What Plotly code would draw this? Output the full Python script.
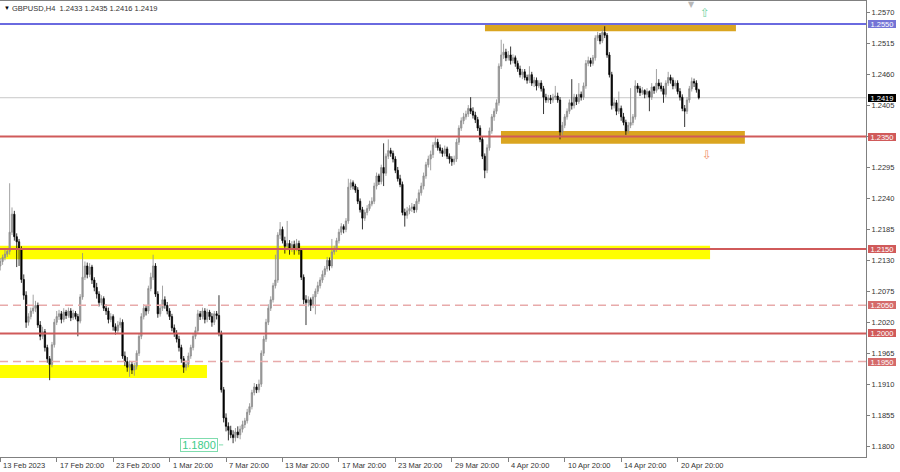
import plotly.graph_objects as go

# ---------------- data ----------------
symbol_title = "GBPUSD,H4"
last_ohlc = ["1.2433", "1.2435", "1.2416", "1.2419"]

opens = [
    1.2120, 1.2128, 1.2135, 1.2141, 1.2146, 1.2180, 1.2212, 1.2172, 1.2163, 1.2150,
    1.2096, 1.2068, 1.2020, 1.2030, 1.2040, 1.2045, 1.2050, 1.2015, 1.1995, 1.2003,
    1.1975, 1.1955, 1.1945, 1.1980, 1.2020, 1.2030, 1.2035, 1.2025, 1.2038, 1.2032,
    1.2040, 1.2028, 1.2036, 1.2030, 1.2022, 1.2065, 1.2100, 1.2120, 1.2105, 1.2118,
    1.2095, 1.2082, 1.2070, 1.2055, 1.2062, 1.2045, 1.2040, 1.2025, 1.2030, 1.2012,
    1.2005, 1.2015, 1.2020, 1.1960, 1.1950, 1.1940, 1.1945, 1.1935, 1.1942, 1.1965,
    1.1995, 1.2030, 1.2045, 1.2040, 1.2080, 1.2100, 1.2120, 1.2070, 1.2035, 1.2045,
    1.2060, 1.2050, 1.2040, 1.2030, 1.2010, 1.2000, 1.1990, 1.1975, 1.1955, 1.1940,
    1.1945, 1.1960, 1.1975, 1.1995, 1.2005, 1.2035, 1.2030, 1.2040, 1.2025, 1.2038,
    1.2030, 1.2020, 1.2035, 1.2032, 1.2000, 1.1900, 1.1850, 1.1835, 1.1828, 1.1820,
    1.1815, 1.1825, 1.1820, 1.1830, 1.1838, 1.1845, 1.1860, 1.1870, 1.1895, 1.1905,
    1.1900, 1.1910, 1.1965, 1.1990, 1.2020, 1.2045, 1.2060, 1.2085, 1.2095, 1.2175,
    1.2185, 1.2165, 1.2155, 1.2160, 1.2150, 1.2158, 1.2152, 1.2160, 1.2148, 1.2100,
    1.2060, 1.2055, 1.2060, 1.2050, 1.2065, 1.2075, 1.2085, 1.2095, 1.2105, 1.2115,
    1.2130, 1.2120, 1.2145, 1.2150, 1.2165, 1.2180, 1.2190, 1.2185, 1.2200, 1.2260,
    1.2268, 1.2262, 1.2255, 1.2235, 1.2220, 1.2205, 1.2215, 1.2222, 1.2230, 1.2235,
    1.2262, 1.2280, 1.2270, 1.2295, 1.2285, 1.2315, 1.2325, 1.2320, 1.2310, 1.2290,
    1.2275, 1.2265, 1.2215, 1.2210, 1.2218, 1.2222, 1.2225, 1.2220, 1.2235, 1.2250,
    1.2262, 1.2280, 1.2300, 1.2310, 1.2318, 1.2335, 1.2340, 1.2330, 1.2325, 1.2320,
    1.2328, 1.2315, 1.2310, 1.2305, 1.2310, 1.2340, 1.2365, 1.2378, 1.2385, 1.2390,
    1.2400, 1.2395, 1.2388, 1.2380, 1.2365, 1.2345, 1.2315, 1.2290, 1.2330, 1.2360,
    1.2385, 1.2395, 1.2410, 1.2475, 1.2495, 1.2500, 1.2490, 1.2495, 1.2485, 1.2490,
    1.2480, 1.2470, 1.2460, 1.2465, 1.2455, 1.2450, 1.2460, 1.2445, 1.2450, 1.2440,
    1.2445, 1.2435, 1.2420, 1.2415, 1.2418, 1.2415, 1.2420, 1.2422, 1.2415, 1.2358,
    1.2370, 1.2385, 1.2395, 1.2410, 1.2405, 1.2420, 1.2412, 1.2425, 1.2420, 1.2440,
    1.2480, 1.2485, 1.2480, 1.2490, 1.2525, 1.2530, 1.2520, 1.2535, 1.2530, 1.2495,
    1.2460, 1.2405, 1.2410, 1.2395, 1.2400, 1.2385, 1.2375, 1.2360, 1.2370, 1.2375,
    1.2385, 1.2440, 1.2435, 1.2428, 1.2432, 1.2425, 1.2430, 1.2420, 1.2438, 1.2432,
    1.2445, 1.2440, 1.2435, 1.2425, 1.2445, 1.2455, 1.2450, 1.2440, 1.2445, 1.2430,
    1.2420, 1.2400, 1.2395, 1.2415, 1.2435, 1.2448, 1.2445, 1.2433,
]

highs = [
    1.2134, 1.2140, 1.2150, 1.2152, 1.2267, 1.2224, 1.2218, 1.2178, 1.2168, 1.2155,
    1.2105, 1.2075, 1.2036, 1.2046, 1.2069, 1.2058, 1.2055, 1.2022, 1.2012, 1.2008,
    1.1980, 1.1960, 1.1985, 1.2026, 1.2040, 1.2042, 1.2040, 1.2045, 1.2042, 1.2046,
    1.2045, 1.2042, 1.2040, 1.2035, 1.2070, 1.2143, 1.2128, 1.2126, 1.2125, 1.2122,
    1.2100, 1.2090, 1.2075, 1.2068, 1.2066, 1.2052, 1.2046, 1.2036, 1.2034, 1.2018,
    1.2022, 1.2028, 1.2025, 1.1968, 1.1958, 1.1952, 1.1950, 1.1948, 1.1970, 1.2000,
    1.2036, 1.2052, 1.2050, 1.2085, 1.2108, 1.2140, 1.2125, 1.2075, 1.2052, 1.2085,
    1.2066, 1.2056, 1.2045, 1.2035, 1.2016, 1.2006, 1.1996, 1.1980, 1.1960, 1.1952,
    1.1966, 1.1980, 1.2000, 1.2012, 1.2042, 1.2040, 1.2046, 1.2045, 1.2044, 1.2042,
    1.2036, 1.2040, 1.2040, 1.2068, 1.2005, 1.1905, 1.1858, 1.1842, 1.1836, 1.1828,
    1.1832, 1.1835, 1.1836, 1.1845, 1.1850, 1.1866, 1.1876, 1.1900, 1.1912, 1.1910,
    1.1918, 1.1970, 1.1996, 1.2026, 1.2052, 1.2066, 1.2090, 1.2140, 1.2180, 1.2198,
    1.2190, 1.2172, 1.2200, 1.2166, 1.2164, 1.2165, 1.2168, 1.2165, 1.2152, 1.2105,
    1.2068, 1.2066, 1.2064, 1.2070, 1.2080, 1.2092, 1.2100, 1.2112, 1.2120, 1.2136,
    1.2135, 1.2168, 1.2156, 1.2170, 1.2186, 1.2196, 1.2194, 1.2205, 1.2275, 1.2274,
    1.2272, 1.2266, 1.2260, 1.2240, 1.2225, 1.2220, 1.2228, 1.2236, 1.2242, 1.2268,
    1.2286, 1.2284, 1.2300, 1.2338, 1.2320, 1.2345, 1.2330, 1.2325, 1.2315, 1.2296,
    1.2282, 1.2270, 1.2222, 1.2225, 1.2228, 1.2232, 1.2230, 1.2240, 1.2256, 1.2268,
    1.2286, 1.2305, 1.2316, 1.2325, 1.2340, 1.2350, 1.2346, 1.2336, 1.2330, 1.2334,
    1.2332, 1.2320, 1.2315, 1.2316, 1.2346, 1.2370, 1.2384, 1.2392, 1.2396, 1.2406,
    1.2420, 1.2402, 1.2394, 1.2385, 1.2370, 1.2350, 1.2320, 1.2336, 1.2366, 1.2390,
    1.2400, 1.2416, 1.2480, 1.2522, 1.2515, 1.2506, 1.2502, 1.2510, 1.2496, 1.2494,
    1.2485, 1.2476, 1.2470, 1.2470, 1.2460, 1.2475, 1.2465, 1.2456, 1.2455, 1.2450,
    1.2450, 1.2440, 1.2426, 1.2424, 1.2424, 1.2426, 1.2440, 1.2428, 1.2420, 1.2376,
    1.2390, 1.2400, 1.2416, 1.2452, 1.2426, 1.2425, 1.2445, 1.2430, 1.2446, 1.2486,
    1.2492, 1.2490, 1.2495, 1.2530, 1.2536, 1.2534, 1.2540, 1.2546, 1.2534, 1.2500,
    1.2465, 1.2418, 1.2415, 1.2430, 1.2405, 1.2392, 1.2380, 1.2376, 1.2436, 1.2390,
    1.2450, 1.2445, 1.2440, 1.2438, 1.2434, 1.2436, 1.2432, 1.2445, 1.2440, 1.2470,
    1.2452, 1.2446, 1.2440, 1.2450, 1.2465, 1.2460, 1.2455, 1.2450, 1.2450, 1.2436,
    1.2425, 1.2406, 1.2420, 1.2440, 1.2455, 1.2453, 1.2450, 1.2435,
]

lows = [
    1.2112, 1.2122, 1.2130, 1.2136, 1.2140, 1.2175, 1.2165, 1.2118, 1.2120, 1.2090,
    1.2060, 1.2010, 1.2014, 1.2025, 1.2035, 1.2038, 1.2010, 1.1988, 1.1990, 1.1968,
    1.1948, 1.1917, 1.1940, 1.1975, 1.2015, 1.2024, 1.2018, 1.2020, 1.2026, 1.2028,
    1.2022, 1.2024, 1.2025, 1.1995, 1.2018, 1.2060, 1.2095, 1.2098, 1.2100, 1.2088,
    1.2075, 1.2062, 1.2048, 1.2050, 1.2040, 1.2033, 1.2018, 1.2020, 1.2005, 1.1998,
    1.2000, 1.2010, 1.1955, 1.1942, 1.1932, 1.1923, 1.1928, 1.1925, 1.1936, 1.1960,
    1.1990, 1.2025, 1.2032, 1.2035, 1.2075, 1.2095, 1.2065, 1.2028, 1.2030, 1.2040,
    1.2044, 1.2034, 1.2024, 1.2004, 1.1994, 1.1984, 1.1968, 1.1948, 1.1930, 1.1934,
    1.1940, 1.1955, 1.1970, 1.1990, 1.2000, 1.2024, 1.2025, 1.2018, 1.2020, 1.2024,
    1.2012, 1.2015, 1.2025, 1.1995, 1.1895, 1.1842, 1.1826, 1.1810, 1.1814, 1.1805,
    1.1808, 1.1814, 1.1812, 1.1824, 1.1832, 1.1840, 1.1855, 1.1865, 1.1890, 1.1894,
    1.1895, 1.1905, 1.1960, 1.1985, 1.2015, 1.2040, 1.2055, 1.2080, 1.2090, 1.2168,
    1.2160, 1.2142, 1.2148, 1.2140, 1.2145, 1.2140, 1.2146, 1.2140, 1.2095, 1.2052,
    1.2015, 1.2048, 1.2040, 1.2045, 1.2034, 1.2070, 1.2080, 1.2090, 1.2100, 1.2110,
    1.2112, 1.2116, 1.2140, 1.2145, 1.2160, 1.2175, 1.2178, 1.2180, 1.2195, 1.2255,
    1.2256, 1.2250, 1.2230, 1.2215, 1.2185, 1.2200, 1.2210, 1.2218, 1.2226, 1.2230,
    1.2256, 1.2264, 1.2265, 1.2262, 1.2280, 1.2310, 1.2314, 1.2304, 1.2285, 1.2270,
    1.2260, 1.2210, 1.2190, 1.2204, 1.2212, 1.2216, 1.2214, 1.2215, 1.2230, 1.2245,
    1.2256, 1.2275, 1.2295, 1.2290, 1.2312, 1.2330, 1.2325, 1.2320, 1.2314, 1.2315,
    1.2310, 1.2302, 1.2298, 1.2300, 1.2305, 1.2335, 1.2360, 1.2372, 1.2380, 1.2385,
    1.2390, 1.2382, 1.2374, 1.2360, 1.2340, 1.2310, 1.2276, 1.2285, 1.2325, 1.2355,
    1.2378, 1.2390, 1.2405, 1.2470, 1.2488, 1.2484, 1.2485, 1.2478, 1.2480, 1.2474,
    1.2465, 1.2455, 1.2452, 1.2450, 1.2444, 1.2445, 1.2440, 1.2438, 1.2432, 1.2436,
    1.2430, 1.2390, 1.2410, 1.2410, 1.2408, 1.2410, 1.2415, 1.2410, 1.2345, 1.2352,
    1.2365, 1.2380, 1.2390, 1.2398, 1.2400, 1.2406, 1.2408, 1.2414, 1.2415, 1.2435,
    1.2475, 1.2474, 1.2476, 1.2485, 1.2520, 1.2514, 1.2516, 1.2525, 1.2490, 1.2455,
    1.2398, 1.2400, 1.2388, 1.2390, 1.2378, 1.2370, 1.2353, 1.2355, 1.2365, 1.2370,
    1.2380, 1.2428, 1.2422, 1.2424, 1.2418, 1.2420, 1.2395, 1.2415, 1.2426, 1.2428,
    1.2434, 1.2430, 1.2410, 1.2420, 1.2440, 1.2444, 1.2434, 1.2435, 1.2425, 1.2414,
    1.2395, 1.2367, 1.2390, 1.2410, 1.2430, 1.2438, 1.2428, 1.2416,
]

closes = [
    1.2128, 1.2135, 1.2141, 1.2146, 1.2180, 1.2212, 1.2172, 1.2163, 1.2150, 1.2096,
    1.2068, 1.2020, 1.2030, 1.2040, 1.2045, 1.2050, 1.2015, 1.1995, 1.2003, 1.1975,
    1.1955, 1.1945, 1.1980, 1.2020, 1.2030, 1.2035, 1.2025, 1.2038, 1.2032, 1.2040,
    1.2028, 1.2036, 1.2030, 1.2022, 1.2065, 1.2100, 1.2120, 1.2105, 1.2118, 1.2095,
    1.2082, 1.2070, 1.2055, 1.2062, 1.2045, 1.2040, 1.2025, 1.2030, 1.2012, 1.2005,
    1.2015, 1.2020, 1.1960, 1.1950, 1.1940, 1.1945, 1.1935, 1.1942, 1.1965, 1.1995,
    1.2030, 1.2045, 1.2040, 1.2080, 1.2100, 1.2120, 1.2070, 1.2035, 1.2045, 1.2060,
    1.2050, 1.2040, 1.2030, 1.2010, 1.2000, 1.1990, 1.1975, 1.1955, 1.1940, 1.1945,
    1.1960, 1.1975, 1.1995, 1.2005, 1.2035, 1.2030, 1.2040, 1.2025, 1.2038, 1.2030,
    1.2020, 1.2035, 1.2032, 1.2000, 1.1900, 1.1850, 1.1835, 1.1828, 1.1820, 1.1815,
    1.1825, 1.1820, 1.1830, 1.1838, 1.1845, 1.1860, 1.1870, 1.1895, 1.1905, 1.1900,
    1.1910, 1.1965, 1.1990, 1.2020, 1.2045, 1.2060, 1.2085, 1.2095, 1.2175, 1.2185,
    1.2165, 1.2155, 1.2160, 1.2150, 1.2158, 1.2152, 1.2160, 1.2148, 1.2100, 1.2060,
    1.2055, 1.2060, 1.2050, 1.2065, 1.2075, 1.2085, 1.2095, 1.2105, 1.2115, 1.2130,
    1.2120, 1.2145, 1.2150, 1.2165, 1.2180, 1.2190, 1.2185, 1.2200, 1.2260, 1.2268,
    1.2262, 1.2255, 1.2235, 1.2220, 1.2205, 1.2215, 1.2222, 1.2230, 1.2235, 1.2262,
    1.2280, 1.2270, 1.2295, 1.2285, 1.2315, 1.2325, 1.2320, 1.2310, 1.2290, 1.2275,
    1.2265, 1.2215, 1.2210, 1.2218, 1.2222, 1.2225, 1.2220, 1.2235, 1.2250, 1.2262,
    1.2280, 1.2300, 1.2310, 1.2318, 1.2335, 1.2340, 1.2330, 1.2325, 1.2320, 1.2328,
    1.2315, 1.2310, 1.2305, 1.2310, 1.2340, 1.2365, 1.2378, 1.2385, 1.2390, 1.2400,
    1.2395, 1.2388, 1.2380, 1.2365, 1.2345, 1.2315, 1.2290, 1.2330, 1.2360, 1.2385,
    1.2395, 1.2410, 1.2475, 1.2495, 1.2500, 1.2490, 1.2495, 1.2485, 1.2490, 1.2480,
    1.2470, 1.2460, 1.2465, 1.2455, 1.2450, 1.2460, 1.2445, 1.2450, 1.2440, 1.2445,
    1.2435, 1.2420, 1.2415, 1.2418, 1.2415, 1.2420, 1.2422, 1.2415, 1.2358, 1.2370,
    1.2385, 1.2395, 1.2410, 1.2405, 1.2420, 1.2412, 1.2425, 1.2420, 1.2440, 1.2480,
    1.2485, 1.2480, 1.2490, 1.2525, 1.2530, 1.2520, 1.2535, 1.2530, 1.2495, 1.2460,
    1.2405, 1.2410, 1.2395, 1.2400, 1.2385, 1.2375, 1.2360, 1.2370, 1.2375, 1.2385,
    1.2440, 1.2435, 1.2428, 1.2432, 1.2425, 1.2430, 1.2420, 1.2438, 1.2432, 1.2445,
    1.2440, 1.2435, 1.2425, 1.2445, 1.2455, 1.2450, 1.2440, 1.2445, 1.2430, 1.2420,
    1.2400, 1.2395, 1.2415, 1.2435, 1.2448, 1.2445, 1.2433, 1.2419,
]

time_label_bars = [0, 24, 48, 72, 96, 120, 144, 168, 192, 216, 240, 264, 288]
time_labels = ["13 Feb 2023", "17 Feb 20:00", "23 Feb 20:00", "1 Mar 20:00",
               "7 Mar 20:00", "13 Mar 20:00", "17 Mar 20:00", "23 Mar 20:00",
               "29 Mar 20:00", "4 Apr 20:00", "10 Apr 20:00", "14 Apr 20:00",
               "20 Apr 20:00"]

price_ticks = [1.1800, 1.1855, 1.1910, 1.1965, 1.2020, 1.2075, 1.2130, 1.2185,
               1.2240, 1.2295, 1.2350, 1.2405, 1.2460, 1.2515, 1.2570]

resistance_level = 1.2550
solid_levels = [1.2350, 1.2150, 1.2000]
dashed_levels = [1.2050, 1.1950]
current_price = 1.2419
low_marker_value = "1.1800"

# zones: start bar, end bar, low price, high price
zone_start = [206.1, 212.9, -5.0, -5.0]
zone_end = [312.8, 316.6, 301.8, 87.9]
zone_low = [1.2537, 1.2337, 1.2132, 1.1921]
zone_high = [1.2552, 1.2360, 1.2156, 1.1944]
zone_colors = ["#DAA520", "#DAA520", "#FFFF00", "#FFFF00"]

# ---------------- figure ----------------
FONT = "Liberation Sans, Arial, sans-serif"
n = len(closes)
bars = list(range(n))

fig = go.Figure()
fig.add_trace(go.Candlestick(
    x=bars, open=opens, high=highs, low=lows, close=closes,
    increasing=dict(line=dict(color="#8c8c8c", width=0.8), fillcolor="#a0a0a0"),
    decreasing=dict(line=dict(color="#000000", width=0.8), fillcolor="#000000"),
    whiskerwidth=0, hoverinfo="skip", showlegend=False,
))

shapes = []
for x0, x1, y0, y1, c in zip(zone_start, zone_end, zone_low, zone_high, zone_colors):
    shapes.append(dict(type="rect", xref="x", yref="y", x0=x0, x1=x1, y0=y0, y1=y1,
                       fillcolor=c, line=dict(width=0), layer="below"))
# current price line
shapes.append(dict(type="line", xref="paper", yref="y", x0=0, x1=1,
                   y0=current_price, y1=current_price,
                   line=dict(color="#c8c8c8", width=1), layer="below"))
# resistance (blue)
shapes.append(dict(type="line", xref="paper", yref="y", x0=0, x1=1,
                   y0=resistance_level, y1=resistance_level,
                   line=dict(color="#6a6ae0", width=2)))
for lv in solid_levels:
    shapes.append(dict(type="line", xref="paper", yref="y", x0=0, x1=1, y0=lv, y1=lv,
                       line=dict(color="#d05a5a", width=2)))
for lv in dashed_levels:
    shapes.append(dict(type="line", xref="paper", yref="y", x0=0, x1=1, y0=lv, y1=lv,
                       line=dict(color="#e8aaaa", width=1.5, dash="8px,5px")))
# small dash next to the 1.1800 text label
shapes.append(dict(type="line", xref="x", yref="y", x0=93.0, x1=94.8,
                   y0=float(low_marker_value) + 0.0002, y1=float(low_marker_value) + 0.0002,
                   line=dict(color="#7fdcae", width=1)))

annotations = []
# title
annotations.append(dict(xref="paper", yref="paper", x=0, y=1, xanchor="left", yanchor="top",
                        xshift=2, yshift=-2, showarrow=False, text="▼",
                        font=dict(family=FONT, size=6, color="#000000")))
annotations.append(dict(xref="paper", yref="paper", x=0, y=1, xanchor="left", yanchor="top",
                        xshift=10, yshift=-1, showarrow=False,
                        text=symbol_title + "\u00a0\u00a0" + " ".join(last_ohlc),
                        font=dict(family=FONT, size=7.5, color="#333333")))
# time labels
for b, t in zip(time_label_bars, time_labels):
    annotations.append(dict(xref="x", yref="paper", x=b, y=0, xanchor="left", yanchor="top",
                            xshift=1, yshift=-2, showarrow=False, text=t,
                            font=dict(family=FONT, size=7.5, color="#333333")))

# price level boxes on the right axis
def level_box(value, bg):
    return dict(xref="paper", yref="y", x=1, y=value, xanchor="left", yanchor="middle",
                xshift=2, showarrow=False, text=f"{value:.4f}", bgcolor=bg,
                width=28, height=8, borderpad=0, borderwidth=0,
                font=dict(family=FONT, size=7.5, color="#ffffff"))

annotations.append(level_box(resistance_level, "#7474d6"))
annotations.append(level_box(current_price, "#000000"))
for lv in solid_levels:
    annotations.append(level_box(lv, "#d05a5a"))
for lv in dashed_levels:
    annotations.append(level_box(lv, "#d46a6a"))

# arrows
annotations.append(dict(xref="x", yref="y", x=299.6, y=1.25695, showarrow=False, text="⇧",
                        font=dict(family="DejaVu Sans", size=12, color="#6fd3a4")))
annotations.append(dict(xref="x", yref="y", x=300.5, y=1.23172, showarrow=False, text="⇩",
                        font=dict(family="DejaVu Sans", size=12, color="#f0906c")))
# chart shift marker at top
annotations.append(dict(xref="x", yref="paper", x=294.1, y=1, yanchor="top", yshift=3,
                        showarrow=False, text="▼",
                        font=dict(family="DejaVu Sans", size=8, color="#b8b8b8")))
# 1.1800 text label
annotations.append(dict(xref="x", yref="y", x=84.7, y=float(low_marker_value) + 0.0002,
                        showarrow=False, text=low_marker_value, bgcolor="#ffffff",
                        bordercolor="#7fdcae", borderwidth=1, borderpad=0,
                        width=36, height=12,
                        font=dict(family=FONT, size=11, color="#3ccc8a")))

fig.update_layout(
    width=900, height=472,
    margin=dict(l=0, r=34, t=1, b=15, autoexpand=False),
    paper_bgcolor="#ffffff", plot_bgcolor="#ffffff",
    shapes=shapes, annotations=annotations,
    showlegend=False, boxgap=0.45, boxgroupgap=0.0,
    font=dict(family=FONT, size=7.5, color="#333333"),
)
fig.update_xaxes(
    range=[-0.1, 368.1], rangeslider=dict(visible=False),
    showgrid=False, zeroline=False,
    tickmode="array", tickvals=time_label_bars, ticktext=[""] * len(time_label_bars),
    ticks="outside", ticklen=4, tickcolor="#808080",
    showline=True, linecolor="#808080", linewidth=1, mirror=True,
)
fig.update_yaxes(
    range=[1.17805, 1.25909], side="right",
    showgrid=False, zeroline=False,
    tickmode="array", tickvals=price_ticks, ticktext=[f"{v:.4f}" for v in price_ticks],
    ticks="outside", ticklen=3, tickcolor="#808080",
    tickfont=dict(family=FONT, size=7.5, color="#333333"),
    showline=True, linecolor="#808080", linewidth=1, mirror=True,
)

fig.write_html("out.html", config={"displayModeBar": False},
               post_script="document.body.style.margin='0';")
